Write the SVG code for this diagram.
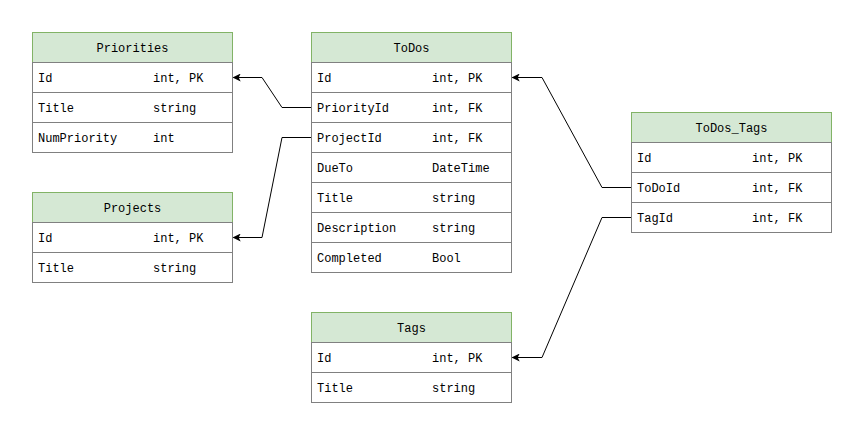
<svg xmlns="http://www.w3.org/2000/svg" width="864" height="435" viewBox="0 0 864 435">
<defs>
<style>
.h{fill:#d5e8d4;stroke:#82b366;stroke-width:1}
.r{fill:#ffffff;stroke:#808080;stroke-width:1}
text{font-family:"Liberation Mono","DejaVu Sans Mono",monospace;font-size:12px;fill:#000}
.c{text-anchor:middle}
.e{fill:none;stroke:#000;stroke-width:1}
</style>
<marker id="ar" viewBox="0 0 10 10" refX="9" refY="5" markerWidth="8" markerHeight="8" markerUnits="userSpaceOnUse" orient="auto">
<path d="M0,0 L10,5 L0,10 L2.5,5 Z" fill="#000"/>
</marker>
</defs>
<rect width="864" height="435" fill="#fff"/>
<g id="connectors">
<polyline class="e" points="311.5,107.5 282,107.5 262,77.5 233.5,77.5" marker-end="url(#ar)"/>
<polyline class="e" points="311.5,137.5 282,137.5 262,237.5 233.5,237.5" marker-end="url(#ar)"/>
<polyline class="e" points="631.5,187.5 602,187.5 542,77.5 512.5,77.5" marker-end="url(#ar)"/>
<polyline class="e" points="631.5,217.5 602,217.5 542,357.5 512.5,357.5" marker-end="url(#ar)"/>
</g>
<g id="priorities">
<rect class="h" x="32.5" y="32.5" width="200" height="30"/>
<rect class="r" x="32.5" y="62.5" width="200" height="30"/>
<rect class="r" x="32.5" y="92.5" width="200" height="30"/>
<rect class="r" x="32.5" y="122.5" width="200" height="30"/>
<text class="c" x="132.5" y="52">Priorities</text>
<text x="38" y="82">Id</text><text x="153" y="82">int, PK</text>
<text x="38" y="112">Title</text><text x="153" y="112">string</text>
<text x="38" y="142">NumPriority</text><text x="153" y="142">int</text>
</g>
<g id="projects">
<rect class="h" x="32.5" y="192.5" width="200" height="30"/>
<rect class="r" x="32.5" y="222.5" width="200" height="30"/>
<rect class="r" x="32.5" y="252.5" width="200" height="30"/>
<text class="c" x="132.5" y="212">Projects</text>
<text x="38" y="242">Id</text><text x="153" y="242">int, PK</text>
<text x="38" y="272">Title</text><text x="153" y="272">string</text>
</g>
<g id="todos">
<rect class="h" x="311.5" y="32.5" width="200" height="30"/>
<rect class="r" x="311.5" y="62.5" width="200" height="30"/>
<rect class="r" x="311.5" y="92.5" width="200" height="30"/>
<rect class="r" x="311.5" y="122.5" width="200" height="30"/>
<rect class="r" x="311.5" y="152.5" width="200" height="30"/>
<rect class="r" x="311.5" y="182.5" width="200" height="30"/>
<rect class="r" x="311.5" y="212.5" width="200" height="30"/>
<rect class="r" x="311.5" y="242.5" width="200" height="30"/>
<text class="c" x="411.5" y="52">ToDos</text>
<text x="317" y="82">Id</text><text x="432" y="82">int, PK</text>
<text x="317" y="112">PriorityId</text><text x="432" y="112">int, FK</text>
<text x="317" y="142">ProjectId</text><text x="432" y="142">int, FK</text>
<text x="317" y="172">DueTo</text><text x="432" y="172">DateTime</text>
<text x="317" y="202">Title</text><text x="432" y="202">string</text>
<text x="317" y="232">Description</text><text x="432" y="232">string</text>
<text x="317" y="262">Completed</text><text x="432" y="262">Bool</text>
</g>
<g id="tags">
<rect class="h" x="311.5" y="312.5" width="200" height="30"/>
<rect class="r" x="311.5" y="342.5" width="200" height="30"/>
<rect class="r" x="311.5" y="372.5" width="200" height="30"/>
<text class="c" x="411.5" y="332">Tags</text>
<text x="317" y="362">Id</text><text x="432" y="362">int, PK</text>
<text x="317" y="392">Title</text><text x="432" y="392">string</text>
</g>
<g id="todos_tags">
<rect class="h" x="631.5" y="112.5" width="200" height="30"/>
<rect class="r" x="631.5" y="142.5" width="200" height="30"/>
<rect class="r" x="631.5" y="172.5" width="200" height="30"/>
<rect class="r" x="631.5" y="202.5" width="200" height="30"/>
<text class="c" x="731.5" y="132">ToDos_Tags</text>
<text x="637" y="162">Id</text><text x="752" y="162">int, PK</text>
<text x="637" y="192">ToDoId</text><text x="752" y="192">int, FK</text>
<text x="637" y="222">TagId</text><text x="752" y="222">int, FK</text>
</g>
</svg>
